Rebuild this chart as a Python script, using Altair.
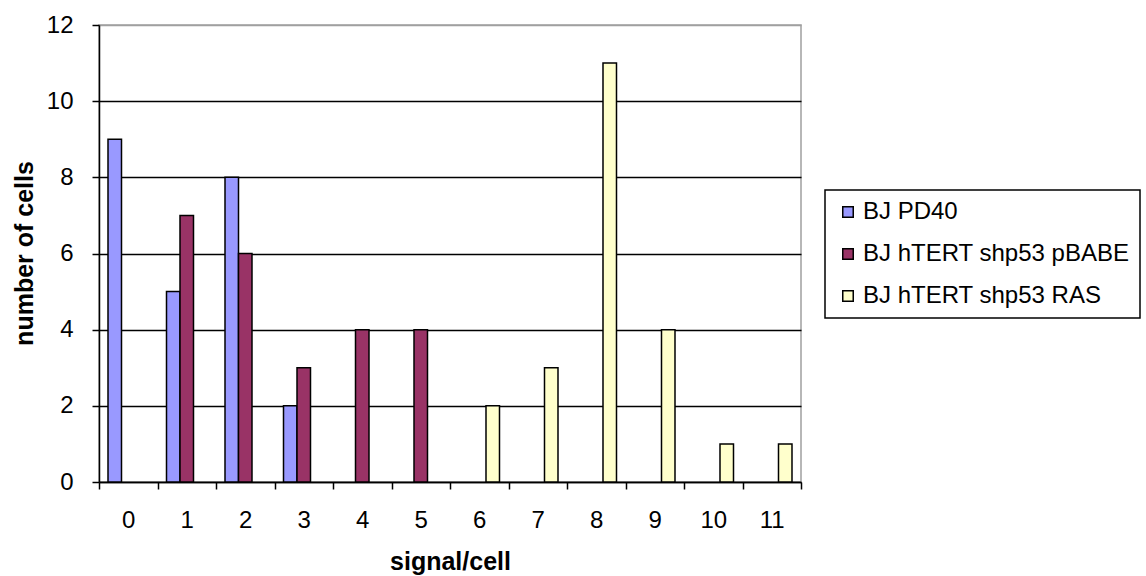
import altair as alt
import pandas as pd

# Histogram of signals per cell for three BJ fibroblast conditions
signals = [str(i) for i in range(12)]
series_names = ["BJ PD40", "BJ hTERT shp53 pBABE", "BJ hTERT shp53 RAS"]
pd40 = [9, 5, 8, 2, 0, 0, 0, 0, 0, 0, 0, 0]
pbabe = [0, 7, 6, 3, 4, 4, 0, 0, 0, 0, 0, 0]
ras = [0, 0, 0, 0, 0, 0, 2, 3, 11, 4, 1, 1]
colors = ["#9999FF", "#993366", "#FFFFCC"]
y_ticks = [0, 2, 4, 6, 8, 10, 12]

rows = []
for name, values in zip(series_names, [pd40, pbabe, ras]):
    for sig, v in zip(signals, values):
        if v > 0:
            rows.append({"signal": sig, "series": name, "cells": v})
df = pd.DataFrame(rows)

FONT = "Liberation Sans"

chart = (
    alt.Chart(df)
    .mark_bar(stroke="black", strokeWidth=1.5)
    .encode(
        x=alt.X(
            "signal:N",
            sort=signals,
            scale=alt.Scale(domain=signals, paddingInner=0, paddingOuter=0),
            axis=alt.Axis(
                title="signal/cell",
                labelAngle=0,
                labelFontSize=24,
                labelPadding=19,
                tickBand="extent",
                tickSize=7,
                tickColor="black",
                tickWidth=1.5,
                domainColor="black",
                domainWidth=1.5,
                grid=False,
                titleFontSize=25,
                titleFontWeight="bold",
                titleX=351,
                titleY=79,
                titleBaseline="middle",
            ),
        ),
        # bars of a group take the middle of each category slot
        xOffset=alt.XOffset(
            "series:N",
            sort=series_names,
            scale=alt.Scale(domain=series_names, paddingInner=0, paddingOuter=0.667),
        ),
        y=alt.Y(
            "cells:Q",
            scale=alt.Scale(domain=[0, 12], nice=False),
            axis=alt.Axis(
                title="number of cells",
                values=y_ticks,
                labelFontSize=24,
                labelPadding=19,
                tickSize=7,
                tickColor="black",
                tickWidth=1.5,
                domainColor="black",
                domainWidth=1.5,
                grid=True,
                gridColor={
                    "condition": {"test": "datum.value === 12", "value": "#a0a0a0"},
                    "value": "#000000",
                },
                gridWidth=1.5,
                titleFontSize=25,
                titleFontWeight="bold",
                titleAngle=270,
                titleX=-75,
                titleY=228,
                titleBaseline="middle",
            ),
        ),
        color=alt.Color(
            "series:N",
            sort=series_names,
            scale=alt.Scale(domain=series_names, range=colors),
            legend=alt.Legend(
                title=None,
                orient="none",
                legendX=726,
                legendY=165,
                symbolType="square",
                symbolSize=110,
                symbolStrokeColor="black",
                symbolStrokeWidth=1.5,
                symbolOffset=1,
                labelFontSize=24,
                labelOffset=3,
                rowPadding=18,
                padding=10,
                strokeColor="black",
                labelLimit=400,
            ),
        ),
    )
    .properties(
        width=702,
        height=457,
        autosize=alt.AutoSizeParams(type="none"),
        padding={"left": 99, "top": 25, "right": 345, "bottom": 94},
    )
    .configure(font=FONT, background="white")
    .configure_axis(labelColor="black", titleColor="black", labelFont=FONT, titleFont=FONT)
    .configure_legend(labelColor="black", labelFont=FONT, strokeWidth=1.5)
    .configure_view(stroke="#a0a0a0", strokeWidth=1.5)
)

chart.save("out.html", embed_options={"renderer": "svg", "actions": False})
